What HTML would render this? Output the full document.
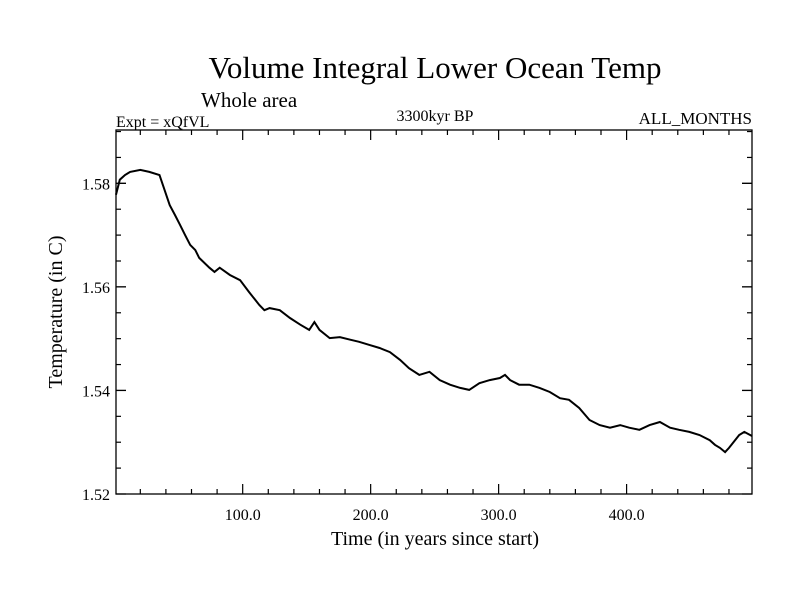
<!DOCTYPE html>
<html><head><meta charset="utf-8"><style>
html,body{margin:0;padding:0;background:#fff}
svg text{font-family:"Liberation Serif",serif;fill:#000}
</style></head><body>
<svg width="800" height="600" xmlns="http://www.w3.org/2000/svg">
<text x="435" y="78" font-size="31" text-anchor="middle">Volume Integral Lower Ocean Temp</text>
<text x="201" y="107" font-size="21">Whole area</text>
<text x="116" y="127" font-size="16">Expt = xQfVL</text>
<text x="435" y="121" font-size="16" text-anchor="middle">3300kyr BP</text>
<text x="752" y="124" font-size="17" text-anchor="end">ALL_MONTHS</text>
<g id="axes"></g>
<path id="line" fill="none" stroke="#000" stroke-width="2"/>
<text x="435" y="545" font-size="20" text-anchor="middle">Time (in years since start)</text>
<text transform="translate(62,312) rotate(-90)" font-size="20" text-anchor="middle">Temperature (in C)</text>
</svg>
<script>
const years=[1,4,8,12,20,27,35,39,43,47,51,55,59,63,66,74,78,82,90,98,105,113,117,121,129,137,145,152,156,160,168,176,184,191,199,207,215,223,230,238,246,254,262,270,277,285,293,301,305,309,316,324,332,340,348,355,363,371,379,387,395,402,410,418,426,434,441,449,457,465,469,473,477,480,488,492,498];
const temps=[1.5778,1.5807,1.5816,1.5822,1.5826,1.5822,1.5816,1.5787,1.5758,1.5739,1.5720,1.5700,1.5681,1.5671,1.5656,1.5637,1.5629,1.5637,1.5623,1.5613,1.5590,1.5565,1.5555,1.5559,1.5555,1.5540,1.5527,1.5517,1.5532,1.5517,1.5501,1.5503,1.5498,1.5494,1.5488,1.5482,1.5474,1.5459,1.5443,1.5430,1.5436,1.5420,1.5411,1.5405,1.5401,1.5414,1.5420,1.5424,1.5430,1.5420,1.5411,1.5411,1.5405,1.5397,1.5385,1.5382,1.5366,1.5343,1.5333,1.5328,1.5333,1.5328,1.5324,1.5333,1.5339,1.5328,1.5324,1.5320,1.5314,1.5304,1.5295,1.5289,1.5281,1.5289,1.5314,1.5320,1.5312];
const xTicks=[100,200,300,400];
const xTickLabels=["100.0","200.0","300.0","400.0"];
const yTicks=[1.52,1.54,1.56,1.58];
const yTickLabels=["1.52","1.54","1.56","1.58"];
const X0=116,X1=752,Y0=130,Y1=494,xMin=1,xMax=498,yMin=1.52,yMax=1.5903;
const sx=v=>X0+(v-xMin)/(xMax-xMin)*(X1-X0);
const sy=v=>Y1-(v-yMin)/(yMax-yMin)*(Y1-Y0);
const NS="http://www.w3.org/2000/svg";
const ax=document.getElementById('axes');
function ln(x1,y1,x2,y2,name){const l=document.createElementNS(NS,'line');l.setAttribute('x1',x1);l.setAttribute('y1',y1);l.setAttribute('x2',x2);l.setAttribute('y2',y2);l.setAttribute('stroke','#000');l.setAttribute('stroke-width','1.2');


ax.appendChild(l);}
function tx(x,y,s,anchor,name){const t=document.createElementNS(NS,'text');t.setAttribute('x',x);t.setAttribute('y',y);t.setAttribute('font-size','16');t.setAttribute('text-anchor',anchor);t.textContent=s;


ax.appendChild(t);}
const r=document.createElementNS(NS,'rect');r.setAttribute('x',X0);r.setAttribute('y',Y0);r.setAttribute('width',X1-X0);r.setAttribute('height',Y1-Y0);r.setAttribute('fill','none');r.setAttribute('stroke','#000');r.setAttribute('stroke-width','1.3');


ax.appendChild(r);
for(let v=20;v<xMax;v+=20){const x=sx(v);const major=v%100===0;const L=major?10:5;ln(x,Y1,x,Y1-L,'x-tick');ln(x,Y0,x,Y0+L,'x-tick-top');}
for(let v=1.525;v<yMax;v+=0.005){const y=sy(v);const L=(Math.round(v*1000)%20===0)?10:5;ln(X0,y,X0+L,y,'y-tick');ln(X1,y,X1-L,y,'y-tick-right');}
yTicks.forEach((v,i)=>{const y=sy(v);ln(X0,y,X0+10,y,'y-tick-major');ln(X1,y,X1-10,y,'y-tick-major-right');tx(110,y+6,yTickLabels[i],'end','y-tick-label');});
xTicks.forEach((v,i)=>tx(sx(v),520,xTickLabels[i],'middle','x-tick-label'));
document.getElementById('line').setAttribute('d',years.map((y,i)=>(i?'L':'M')+sx(y).toFixed(1)+' '+sy(temps[i]).toFixed(1)).join(' '));
</script>
</body></html>
